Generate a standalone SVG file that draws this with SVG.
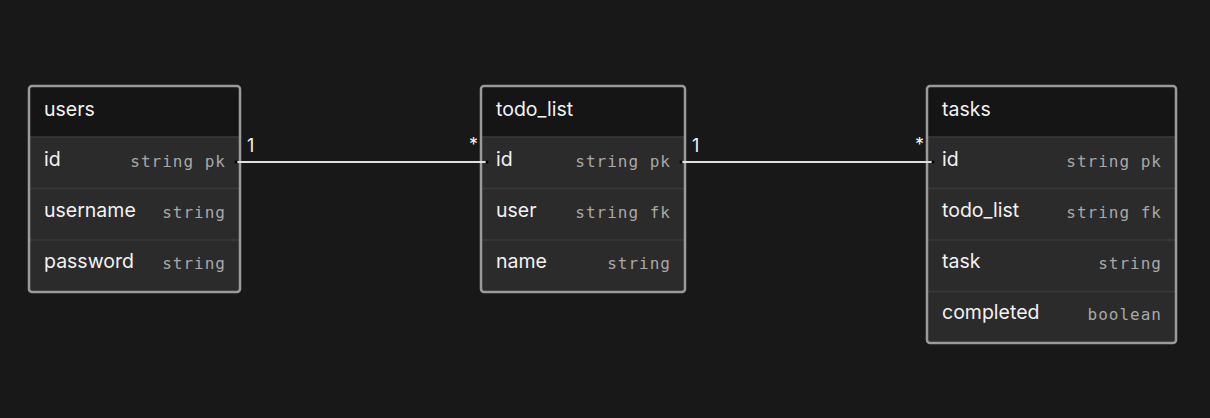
<svg xmlns="http://www.w3.org/2000/svg" width="1210" height="418" viewBox="0 0 1210 418">
<style>
.bg{fill:#181818}
.frame{fill:none;stroke:#9a9a9a;stroke-width:2.5}
.head{fill:#151515}
.row{fill:#2b2b2b}
.sep{stroke:#3b3b3b;stroke-width:1.5}
.title{font-family:Inter,"Liberation Sans",sans-serif;font-size:19.5px;fill:#f2f2f2}
.name{font-family:Inter,"Liberation Sans",sans-serif;font-size:19.5px;fill:#f2f2f2}
.type{font-family:"DejaVu Sans Mono","Liberation Mono",monospace;font-size:16px;letter-spacing:1px;fill:#a8a8a8;text-anchor:end}
.conn{stroke:#e0e0e0;stroke-width:2;fill:none}
.dot{fill:#000}
.card{font-family:Inter,"Liberation Sans",sans-serif;font-size:18px;fill:#f2f2f2}
</style>
<rect class="bg" x="0" y="0" width="1210" height="418"/>

<g id="users">
<rect class="head" x="29" y="86" width="211" height="51"/>
<rect class="row" x="29" y="137" width="211" height="155"/>
<line class="sep" x1="29" y1="137" x2="240" y2="137"/>
<line class="sep" x1="29" y1="188.5" x2="240" y2="188.5"/>
<line class="sep" x1="29" y1="240" x2="240" y2="240"/>
<rect class="frame" x="29" y="86" width="211" height="206" rx="3"/>
<text class="title" x="44" y="116">users</text>
<text class="name" x="44" y="166">id</text>
<text class="type" x="226" y="167">string pk</text>
<text class="name" x="44" y="217">username</text>
<text class="type" x="226" y="218">string</text>
<text class="name" x="44" y="268">password</text>
<text class="type" x="226" y="269">string</text>
</g>

<g id="todo_list">
<rect class="head" x="481" y="86" width="204" height="51"/>
<rect class="row" x="481" y="137" width="204" height="155"/>
<line class="sep" x1="481" y1="137" x2="685" y2="137"/>
<line class="sep" x1="481" y1="188.5" x2="685" y2="188.5"/>
<line class="sep" x1="481" y1="240" x2="685" y2="240"/>
<rect class="frame" x="481" y="86" width="204" height="206" rx="3"/>
<text class="title" x="496" y="116">todo_list</text>
<text class="name" x="496" y="166">id</text>
<text class="type" x="671" y="167">string pk</text>
<text class="name" x="496" y="217">user</text>
<text class="type" x="671" y="218">string fk</text>
<text class="name" x="496" y="268">name</text>
<text class="type" x="671" y="269">string</text>
</g>

<g id="tasks">
<rect class="head" x="927" y="86" width="249" height="51"/>
<rect class="row" x="927" y="137" width="249" height="206"/>
<line class="sep" x1="927" y1="137" x2="1176" y2="137"/>
<line class="sep" x1="927" y1="188.5" x2="1176" y2="188.5"/>
<line class="sep" x1="927" y1="240" x2="1176" y2="240"/>
<line class="sep" x1="927" y1="291.5" x2="1176" y2="291.5"/>
<rect class="frame" x="927" y="86" width="249" height="257" rx="3"/>
<text class="title" x="942" y="116">tasks</text>
<text class="name" x="942" y="166">id</text>
<text class="type" x="1162" y="167">string pk</text>
<text class="name" x="942" y="217">todo_list</text>
<text class="type" x="1162" y="218">string fk</text>
<text class="name" x="942" y="268">task</text>
<text class="type" x="1162" y="269">string</text>
<text class="name" x="942" y="319">completed</text>
<text class="type" x="1162" y="320">boolean</text>
</g>

<g id="connectors">
<line class="conn" x1="236" y1="162" x2="487" y2="162"/>
<circle class="dot" cx="236" cy="162" r="1.5"/>
<circle class="dot" cx="487" cy="162" r="1.5"/>
<text class="card" x="247" y="152">1</text>
<text class="card" x="469" y="151">*</text>
<line class="conn" x1="681" y1="162" x2="933" y2="162"/>
<circle class="dot" cx="681" cy="162" r="1.5"/>
<circle class="dot" cx="933" cy="162" r="1.5"/>
<text class="card" x="692" y="152">1</text>
<text class="card" x="915" y="151">*</text>
</g>
</svg>
